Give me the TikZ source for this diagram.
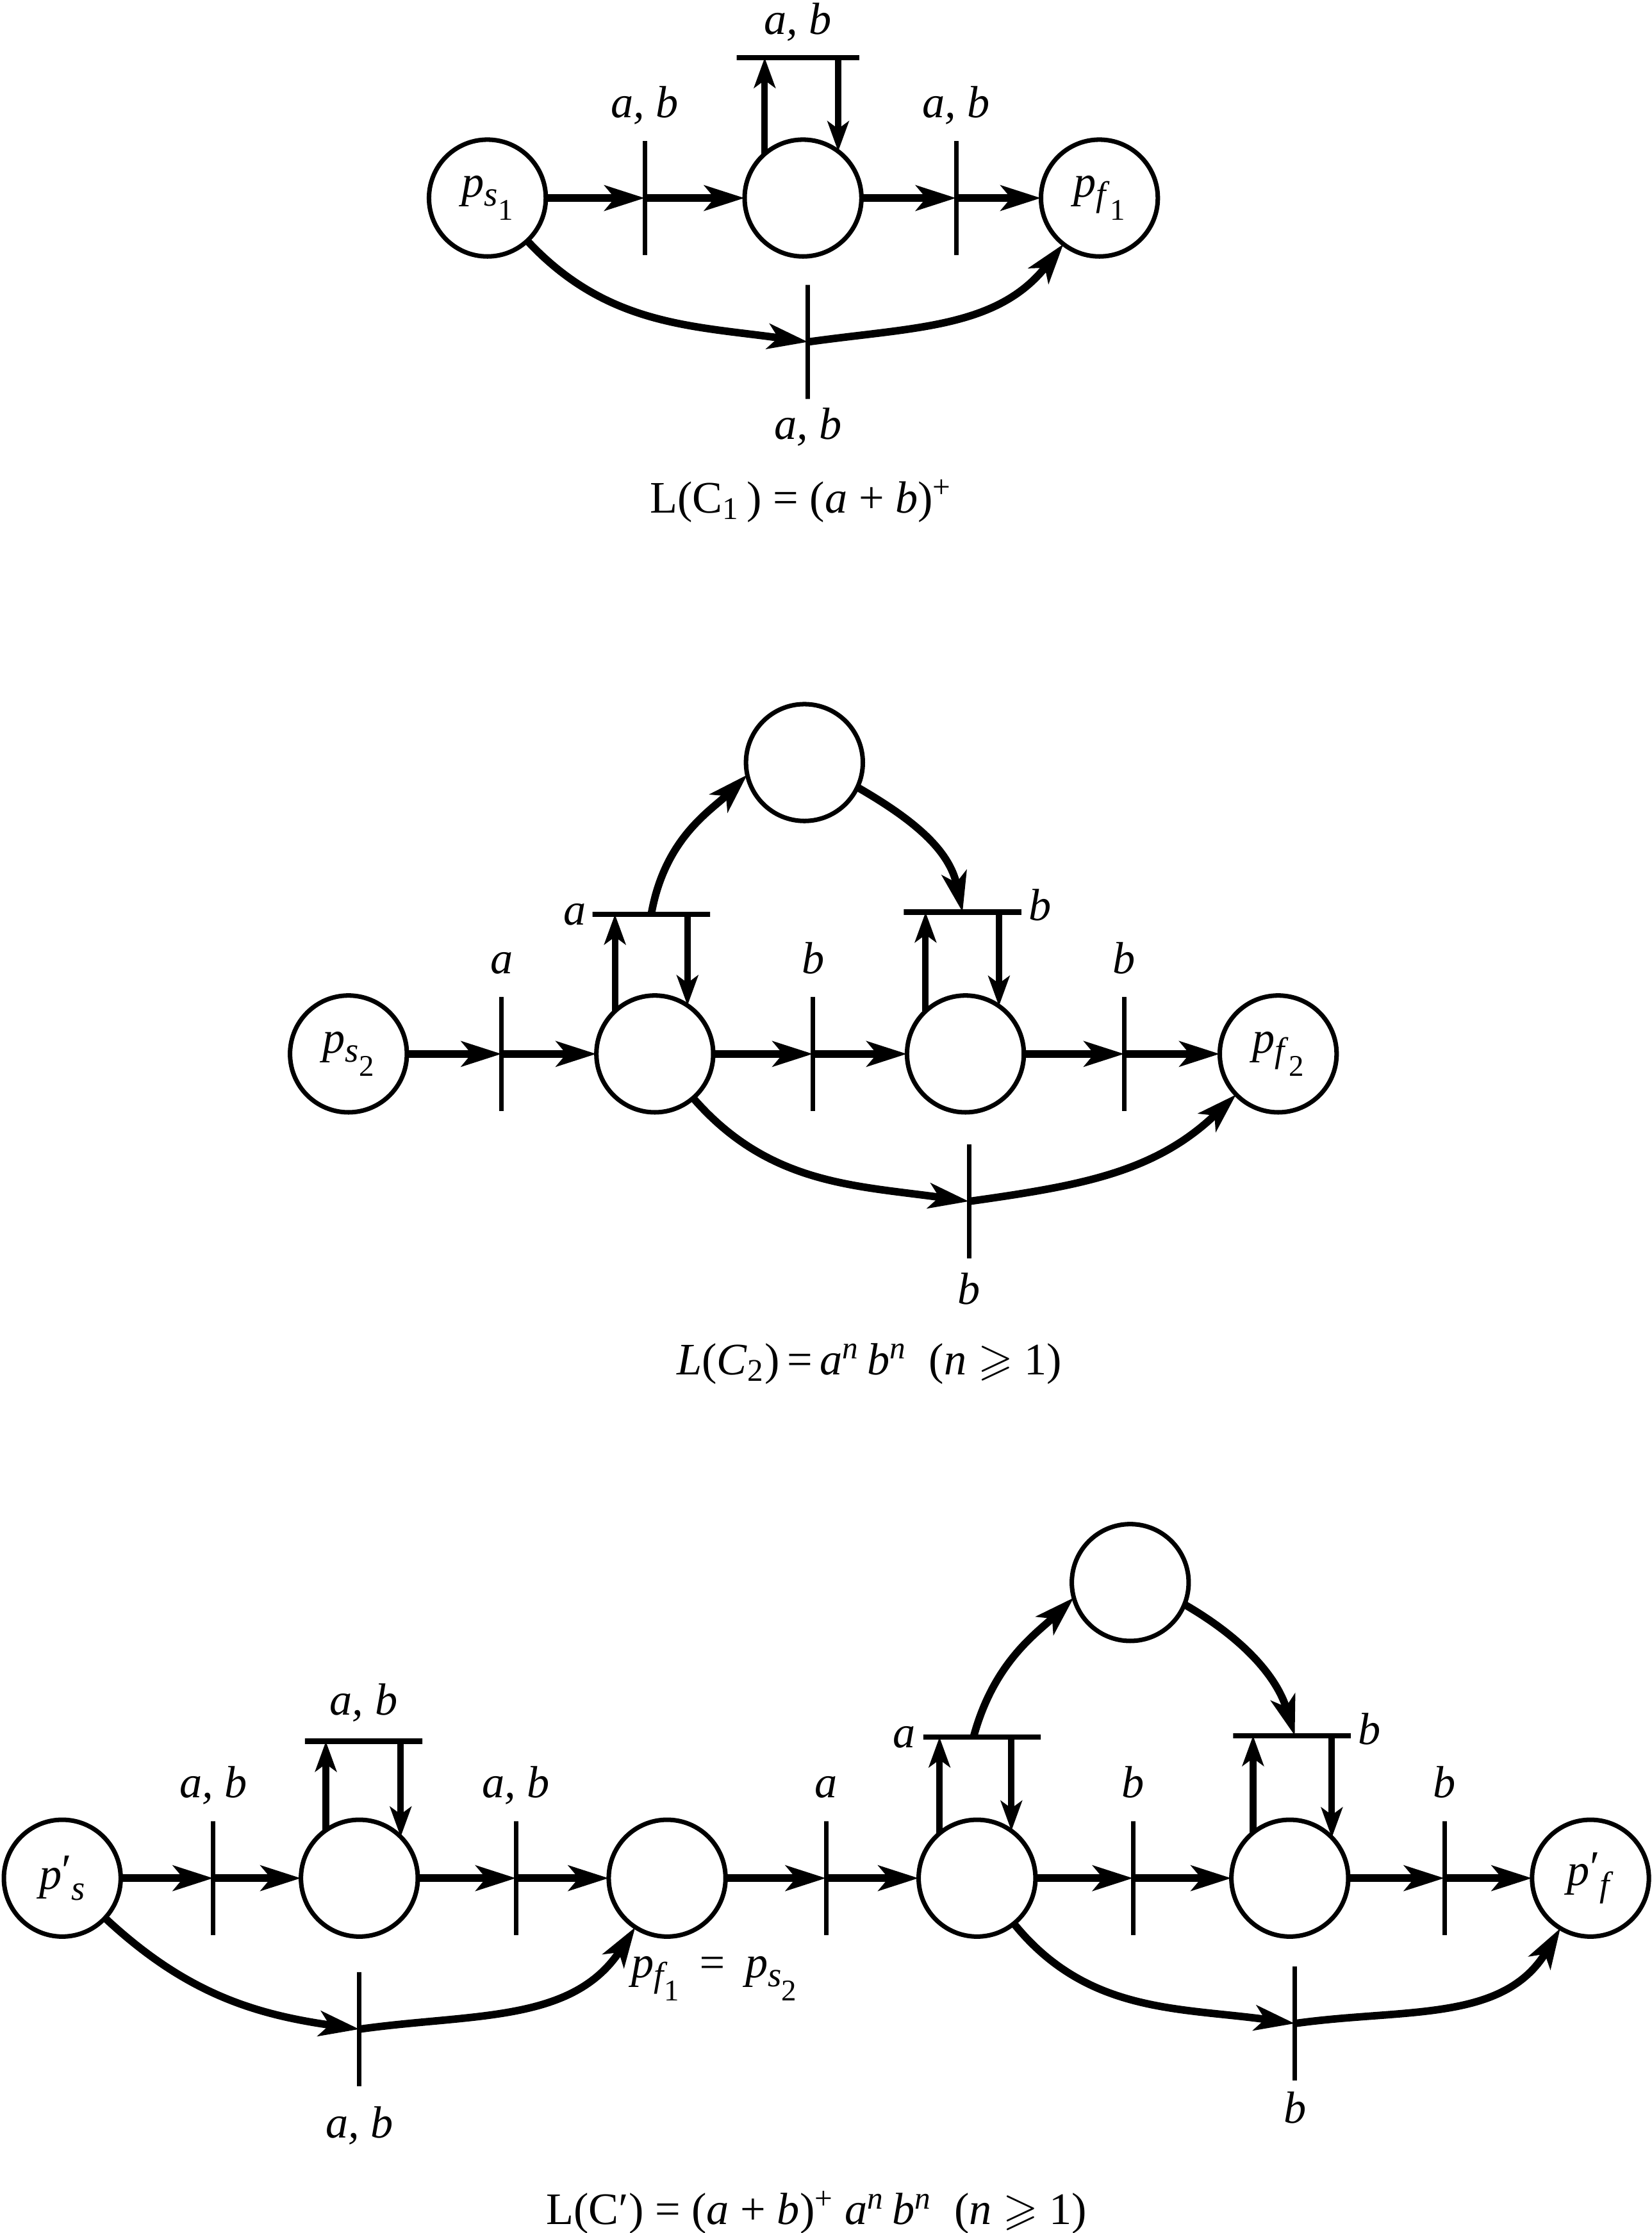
\documentclass[tikz,border=0pt]{standalone}
\usepackage{amssymb}
\usepackage{fontspec}
\setmainfont{Liberation Serif}
\usetikzlibrary{positioning,arrows.meta}

\newcommand{\pname}[2]{\textit{p}\raisebox{-3.6pt}{\fontsize{14}{14}\selectfont\textit{#1}\raisebox{-5.7pt}{\fontsize{12}{12}\selectfont\upshape #2}}}
\newcommand{\pprime}[1]{\textit{p}\raisebox{1.5pt}{\upshape ′}\raisebox{-4.3pt}{\fontsize{14}{14}\selectfont\textit{#1}}}

\begin{document}
\begin{tikzpicture}
[
    x = 0.02cm, y = 0.02cm,
    font = \fontsize{18}{22}\selectfont,
    placenode/.style = {circle,
                        draw,
                        line width=1.8pt,
                        minimum size=1.64cm,
                        inner sep=0pt,
                        outer sep=0pt},
    transbar/.style  = {draw,
                        line width=1.8pt,
                        minimum width=0pt,
                        minimum height=1.6cm,
                        inner sep=0pt,
                        outer sep=0pt},
    loopbar/.style   = {draw,
                        line width=2.2pt,
                        minimum width=1.65cm,
                        minimum height=0pt,
                        inner sep=0pt,
                        outer sep=0pt},
    lbl/.style       = {inner sep=0pt,
                        text depth=0pt,
                        font=\fontsize{18}{22}\selectfont\itshape},
    arr/.style       = {line width=3pt,
                        -{Stealth[length=16pt, width=10pt, inset=4pt]}},
    looparr/.style   = {line width=2.6pt,
                        -{Stealth[length=12pt, width=8.5pt, inset=3pt]}}
]

\useasboundingbox (0,0) rectangle (1159,1567);

% C1
\node (ps1) [placenode] at (342,1428) {
\pname{s}{1}
};

\node (t11) [transbar, right=1.39cm of ps1] {};

\node (m11) [placenode, right=1.40cm of t11] {};

\node (t12) [transbar, right=1.33cm of m11] {};

\node (pf1) [placenode, right=1.19cm of t12] {
\pname{f}{1}
};

\node (l11) [loopbar, minimum width=1.72cm, above=1.15cm of m11, xshift=-0.07cm] {};

\node (t13) [transbar, below=0.4cm of m11, xshift=0.07cm] {};

\node (a11) [lbl, above=0.32cm of t11] {a, b};
\node (a12) [lbl, above=0.32cm of t12] {a, b};
\node (a13) [lbl, above=0.32cm of l11] {a, b};
\node (a14) [lbl, below=0.12cm of t13] {a, b};

\draw[arr] (ps1) -- (t11.center);
\draw[arr] (t11.center) -- (m11);
\draw[arr] (m11) -- (t12.center);
\draw[arr] (t12.center) -- (pf1);
\draw[looparr] (m11.131) -- (m11.131 |- l11.center);
\draw[looparr] (m11.53 |- l11.center) -- (m11.53);
\draw[arr] (ps1) to[out=-47, in=172] (t13.center);
\draw[arr] (t13.center) to[out=8, in=232] (pf1);

\node (cap1) [anchor=base] at (562,1207) {
L(C\textsubscript{1}\,) = (\textit{a} + \textit{b})\textsuperscript{+}
};

% C2
\node (ps2) [placenode] at (244.5,827.4) {
\pname{s}{2}
};

\node (t21) [transbar, right=1.33cm of ps2] {};

\node (m21) [placenode, right=1.33cm of t21] {};

\node (t22) [transbar, right=1.40cm of m21] {};

\node (m22) [placenode, right=1.32cm of t22] {};

\node (t23) [transbar, right=1.41cm of m22] {};

\node (pf2) [placenode, right=1.34cm of t23] {
\pname{f}{2}
};

\node (m23) [placenode, above=2.47cm of t22, xshift=-0.12cm] {};

\node (l21) [loopbar, above=1.14cm of m21, xshift=-0.05cm] {};

\node (l22) [loopbar, above=1.17cm of m22, xshift=-0.04cm] {};

\node (t24) [transbar, below=0.45cm of m22, xshift=0.05cm] {};

\node (a21) [lbl, above=0.32cm of t21] {a};
\node (a22) [lbl, above=0.32cm of t22] {b};
\node (a23) [lbl, above=0.32cm of t23] {b};
\node (a24) [lbl, left=0.08cm of l21] {a};
\node (a25) [lbl, right=0.1cm of l22, yshift=0.1cm] {b};
\node (a26) [lbl, below=0.2cm of t24] {b};

\draw[arr] (ps2) -- (t21.center);
\draw[arr] (t21.center) -- (m21);
\draw[arr] (m21) -- (t22.center);
\draw[arr] (t22.center) -- (m22);
\draw[arr] (m22) -- (t23.center);
\draw[arr] (t23.center) -- (pf2);
\draw[looparr] (m21.133) -- (m21.133 |- l21.center);
\draw[looparr] (m21.56 |- l21.center) -- (m21.56);
\draw[looparr] (m22.133) -- (m22.133 |- l22.center);
\draw[looparr] (m22.55 |- l22.center) -- (m22.55);
\draw[arr] (l21.center) .. controls +(80:1.1cm) and +(225:0.7cm) .. (m23.192);
\draw[arr] (m23.-25) .. controls +(-30:0.9cm) and +(102:0.9cm) .. (l22.center);
\draw[arr] (m21) to[out=-49, in=172] (t24.center);
\draw[arr] (t24.center) to[out=8, in=224] (pf2);

\node (cap2) [anchor=base] at (610,602.3) {
\textit{L}(\textit{C}\textsubscript{2})\,=\,\textit{a}\textsuperscript{\textit{n}}\,\textit{b}\textsuperscript{\textit{n}}\ \ (\textit{n} $\geqslant$ 1)
};

% C'
\node (psp) [placenode] at (43.7,249) {
\pprime{s}
};

\node (t31) [transbar, right=1.30cm of psp] {};

\node (m31) [placenode, right=1.23cm of t31] {};

\node (t32) [transbar, right=1.38cm of m31] {};

\node (m32) [placenode, right=1.30cm of t32] {};

\node (t33) [transbar, right=1.41cm of m32] {};

\node (m33) [placenode, right=1.30cm of t33] {};

\node (t34) [transbar, right=1.37cm of m33] {};

\node (m34) [placenode, right=1.38cm of t34] {};

\node (t35) [transbar, right=1.35cm of m34] {};

\node (pfp) [placenode, right=1.23cm of t35] {
\pprime{f}
};

\node (m35) [placenode, above=2.53cm of t34, xshift=-0.04cm] {};

\node (l31) [loopbar, above=1.1cm of m31, xshift=0.06cm] {};

\node (l32) [loopbar, above=1.16cm of m33, xshift=0.07cm] {};

\node (l33) [loopbar, above=1.18cm of m34, xshift=0.03cm] {};

\node (t36) [transbar, below=0.5cm of m31] {};

\node (t37) [transbar, below=0.42cm of m34, xshift=0.07cm] {};

\node (a31) [lbl, above=0.32cm of t31] {a, b};
\node (a32) [lbl, above=0.32cm of t32] {a, b};
\node (a33) [lbl, above=0.32cm of t33] {a};
\node (a34) [lbl, above=0.32cm of t34] {b};
\node (a35) [lbl, above=0.32cm of t35] {b};
\node (a36) [lbl, above=0.36cm of l31] {a, b};
\node (a37) [lbl, left=0.1cm of l32] {a};
\node (a38) [lbl, right=0.1cm of l33, yshift=0.1cm] {b};
\node (a39) [lbl, below=0.28cm of t36] {a, b};
\node (a40) [lbl, below=0.15cm of t37] {b};

\node (eq) [lbl, below=0.27cm of m32, xshift=0.66cm] {
\pname{f}{1}\hspace{0.4em}=\hspace{0.4em}\pname{s}{2}
};

\draw[arr] (psp) -- (t31.center);
\draw[arr] (t31.center) -- (m31);
\draw[arr] (m31) -- (t32.center);
\draw[arr] (t32.center) -- (m32);
\draw[arr] (m32) -- (t33.center);
\draw[arr] (t33.center) -- (m33);
\draw[arr] (m33) -- (t34.center);
\draw[arr] (t34.center) -- (m34);
\draw[arr] (m34) -- (t35.center);
\draw[arr] (t35.center) -- (pfp);
\draw[looparr] (m31.125) -- (m31.125 |- l31.center);
\draw[looparr] (m31.45 |- l31.center) -- (m31.45);
\draw[looparr] (m33.130) -- (m33.130 |- l32.center);
\draw[looparr] (m33.54 |- l32.center) -- (m33.54);
\draw[looparr] (m34.129) -- (m34.129 |- l33.center);
\draw[looparr] (m34.44 |- l33.center) -- (m34.44);
\draw[arr] ([xshift=-0.12cm]l32.center) .. controls +(75:1.1cm) and +(224:0.7cm) .. (m35.195);
\draw[arr] (m35.-22) .. controls +(-30:0.9cm) and +(107:0.9cm) .. ([xshift=0.04cm]l33.center);
\draw[arr] (psp) to[out=-43, in=172] (t36.center);
\draw[arr] (t36.center) to[out=8, in=237] (m32);
\draw[arr] (m33) to[out=-51, in=172] (t37.center);
\draw[arr] (t37.center) to[out=8, in=239] (pfp);

\node (cap3) [anchor=base] at (573,6) {
L(C′) = (\textit{a} + \textit{b})\textsuperscript{+} \textit{a}\textsuperscript{\textit{n}}\,\textit{b}\textsuperscript{\textit{n}}\ \ (\textit{n} $\geqslant$ 1)
};

\end{tikzpicture}
\end{document}
